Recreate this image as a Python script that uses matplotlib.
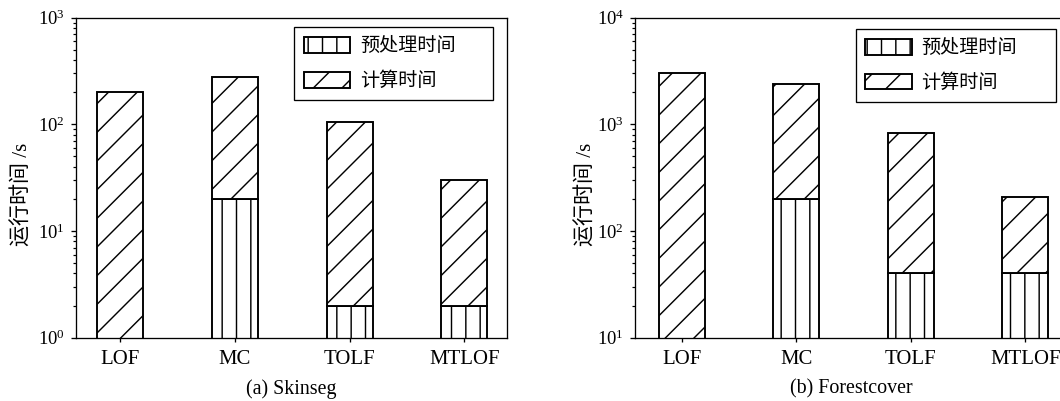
import numpy as np
import matplotlib
matplotlib.use("Agg")
import matplotlib.pyplot as plt

# Data: running time (seconds) split into preprocessing and computation
methods = ["LOF", "MC", "TOLF", "MTLOF"]

skinseg_pre = [0, 20, 2, 2]
skinseg_compute = [200, 260, 103, 28]

forest_pre = [0, 200, 40, 40]
forest_compute = [3050, 2200, 790, 168]

panel_titles = ["(a) Skinseg", "(b) Forestcover"]
ylabel_text = "运行时间 /s"
legend_labels = ["预处理时间", "计算时间"]

DPI = 172
plt.rcParams.update({
    "font.family": ["Liberation Serif", "Noto Sans CJK SC"],
    "mathtext.fontset": "stix",
    "hatch.color": "black",
    "hatch.linewidth": 0.6,
    "axes.linewidth": 0.55,
})

fig = plt.figure(figsize=(1060 / DPI, 401 / DPI), dpi=DPI)

panels = [
    dict(rect=[76 / 1060, 63.3 / 401, 431 / 1060, 320 / 401],
         pre=skinseg_pre, comp=skinseg_compute, ylim=(1, 1e3),
         xlim=(-0.384, 3.372), leg=(0.5058, 0.7366, 0.4617, 0.2334),
         ylab_x=-0.0994, title=panel_titles[0]),
    dict(rect=[635 / 1060, 63.3 / 401, 433 / 1060, 320 / 401],
         pre=forest_pre, comp=forest_compute, ylim=(10, 1e4),
         xlim=(-0.407, 3.372), leg=(0.5095, 0.730, 0.4635, 0.234),
         ylab_x=-0.089, title=panel_titles[1]),
]

x = np.arange(len(methods))
width = 0.40
fs = 8.7

for p in panels:
    ax = fig.add_axes(p["rect"])
    ax.set_yscale("log")
    pre = np.asarray(p["pre"], dtype=float)
    comp = np.asarray(p["comp"], dtype=float)
    has_pre = pre > 0

    b_pre = ax.bar(x[has_pre], pre[has_pre], width, color="white",
                   edgecolor="black", linewidth=0.8, hatch="||",
                   label=legend_labels[0], zorder=2)
    b_comp = ax.bar(x, comp, width, bottom=pre, color="white",
                    edgecolor="black", linewidth=0.8, hatch="//",
                    label=legend_labels[1], zorder=2)

    ax.set_ylim(*p["ylim"])
    ax.set_xlim(*p["xlim"])
    ax.set_xticks(x)
    ax.set_xticklabels(methods, fontsize=fs)
    ax.tick_params(axis="x", direction="out", length=1.8, width=0.55, pad=3.5)
    ax.tick_params(axis="y", which="major", direction="out", length=2.2,
                   width=0.55, pad=2.5, labelsize=7.8)
    ax.tick_params(axis="y", which="minor", direction="out", length=1.4,
                   width=0.5)
    ax.set_xlabel(p["title"], fontsize=8.4, labelpad=4)
    ax.set_ylabel(ylabel_text, fontsize=8.8)
    ax.yaxis.set_label_coords(p["ylab_x"], 0.449)

    leg = ax.legend(handles=[b_pre, b_comp], loc="upper right",
                    bbox_to_anchor=p["leg"], mode="expand", borderaxespad=0,
                    fontsize=8, frameon=True, fancybox=False,
                    edgecolor="black", framealpha=1,
                    handlelength=2.45, handleheight=0.9, handletextpad=0.5,
                    labelspacing=0.85, borderpad=0.5)
    leg.get_frame().set_linewidth(0.55)

fig.savefig("out.png", dpi=DPI)
